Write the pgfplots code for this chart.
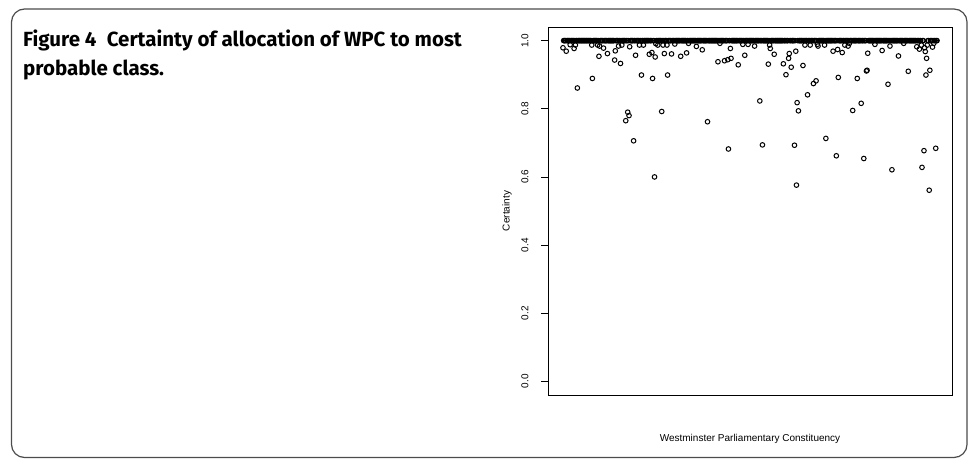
\documentclass[border=0pt]{standalone}
\usepackage{pgfplots}
\pgfplotsset{compat=1.18}
\usepackage{fontspec}
\setmainfont{Liberation Sans}
\newfontfamily\titlefont{Fira Sans}

\pgfplotstableread{
idx certainty
1 0.979
6 0.969
12 0.988
18 0.977
20 0.987
23 0.861
45 0.987
46 0.889
54 0.987
56 0.954
57 0.984
63 0.978
69 0.962
80 0.943
81 0.970
86 0.984
89 0.933
91 0.987
97 0.765
100 0.790
102 0.780
103 0.982
109 0.706
112 0.957
118 0.987
121 0.899
124 0.987
133 0.960
137 0.965
138 0.889
141 0.600
142 0.952
143 0.991
146 0.987
152 0.792
154 0.987
156 0.962
160 0.987
161 0.899
167 0.961
172 0.990
181 0.954
190 0.964
193 0.992
205 0.983
214 0.973
222 0.762
238 0.938
241 0.992
248 0.941
253 0.944
254 0.682
257 0.977
258 0.948
269 0.929
276 0.989
279 0.957
284 0.989
294 0.984
302 0.823
306 0.694
315 0.931
317 0.987
318 0.977
324 0.960
338 0.932
342 0.900
346 0.948
347 0.962
350 0.922
355 0.693
357 0.969
358 0.576
359 0.818
361 0.794
368 0.927
371 0.987
375 0.841
379 0.987
384 0.874
388 0.882
390 0.989
391 0.984
401 0.987
403 0.713
414 0.969
419 0.662
421 0.974
422 0.892
428 0.965
432 0.987
437 0.984
439 0.992
444 0.795
451 0.889
457 0.816
461 0.654
465 0.911
466 0.913
467 0.963
478 0.989
489 0.971
498 0.872
501 0.984
504 0.621
514 0.955
522 0.992
529 0.910
542 0.982
546 0.975
549 0.987
550 0.628
553 0.677
554 0.979
555 0.968
556 0.899
557 0.948
558 0.987
561 0.561
562 0.913
566 0.981
568 0.992
571 0.684
}\lowcert

\begin{document}
\begin{tikzpicture}[x=1pt,y=1pt]
\useasboundingbox (0,0) rectangle (973,460);
\draw[black!70, line width=1.2pt, rounded corners=13pt] (11.5,2.5) rectangle (967,451);
\node[anchor=north west, align=left, inner sep=0pt,
      font=\titlefont\bfseries\fontsize{20.5}{29}\selectfont] at (23,430)
  {Figure 4\enspace Certainty of allocation of WPC to most\\probable class.};
\begin{axis}[
  at={(548pt,65pt)}, anchor=south west,
  scale only axis, width=404pt, height=368pt,
  xmin=-21.88, xmax=595.88, ymin=-0.04, ymax=1.04,
  xtick=\empty,
  ytick={0,0.2,0.4,0.6,0.8,1.0},
  ytick pos=left,
  tick align=outside,
  major tick length=7pt,
  yticklabel style={rotate=90, anchor=center, inner sep=0pt, font=\fontsize{10}{12}\selectfont},
  yticklabel shift=16pt,
  /pgf/number format/.cd, fixed, fixed zerofill, precision=1, assume math mode=true, /pgfplots/.cd,
  axis line style={line width=0.8pt, black},
  every tick/.style={black, line width=0.8pt},
  ylabel={Certainty},
  xlabel={Westminster Parliamentary Constituency},
  label style={font=\fontsize{10}{12}\selectfont},
  every axis y label/.style={at={(axis description cs:-0.0953,0.5)}, rotate=90, anchor=base},
  every axis x label/.style={at={(axis description cs:0.5,-0.1264)}, anchor=base},
]
\addplot[only marks, mark=o, mark size=2.3pt, black, line width=1pt]
  coordinates {
(2,1)(3,1)(4,1)(5,1)(7,1)(8,1)(9,1)(10,1)
(11,1)(13,1)(14,1)(15,1)(16,1)(17,1)(19,1)
(21,1)(22,1)(24,1)(25,1)(26,1)(27,1)(28,1)(29,1)(30,1)
(31,1)(32,1)(33,1)(34,1)(35,1)(36,1)(37,1)(38,1)(39,1)(40,1)
(41,1)(42,1)(43,1)(44,1)(47,1)(48,1)(49,1)(50,1)
(51,1)(52,1)(53,1)(55,1)(58,1)(59,1)(60,1)
(61,1)(62,1)(64,1)(65,1)(66,1)(67,1)(68,1)(70,1)
(71,1)(72,1)(73,1)(74,1)(75,1)(76,1)(77,1)(78,1)(79,1)
(82,1)(83,1)(84,1)(85,1)(87,1)(88,1)(90,1)
(92,1)(93,1)(94,1)(95,1)(96,1)(98,1)(99,1)
(101,1)(104,1)(105,1)(106,1)(107,1)(108,1)(110,1)
(111,1)(113,1)(114,1)(115,1)(116,1)(117,1)(119,1)(120,1)
(122,1)(123,1)(125,1)(126,1)(127,1)(128,1)(129,1)(130,1)
(131,1)(132,1)(134,1)(135,1)(136,1)(139,1)(140,1)
(144,1)(145,1)(147,1)(148,1)(149,1)(150,1)
(151,1)(153,1)(155,1)(157,1)(158,1)(159,1)
(162,1)(163,1)(164,1)(165,1)(166,1)(168,1)(169,1)(170,1)
(171,1)(173,1)(174,1)(175,1)(176,1)(177,1)(178,1)(179,1)(180,1)
(182,1)(183,1)(184,1)(185,1)(186,1)(187,1)(188,1)(189,1)
(191,1)(192,1)(194,1)(195,1)(196,1)(197,1)(198,1)(199,1)(200,1)
(201,1)(202,1)(203,1)(204,1)(206,1)(207,1)(208,1)(209,1)(210,1)
(211,1)(212,1)(213,1)(215,1)(216,1)(217,1)(218,1)(219,1)(220,1)
(221,1)(223,1)(224,1)(225,1)(226,1)(227,1)(228,1)(229,1)(230,1)
(231,1)(232,1)(233,1)(234,1)(235,1)(236,1)(237,1)(239,1)(240,1)
(242,1)(243,1)(244,1)(245,1)(246,1)(247,1)(249,1)(250,1)
(251,1)(252,1)(255,1)(256,1)(259,1)(260,1)
(261,1)(262,1)(263,1)(264,1)(265,1)(266,1)(267,1)(268,1)(270,1)
(271,1)(272,1)(273,1)(274,1)(275,1)(277,1)(278,1)(280,1)
(281,1)(282,1)(283,1)(285,1)(286,1)(287,1)(288,1)(289,1)(290,1)
(291,1)(292,1)(293,1)(295,1)(296,1)(297,1)(298,1)(299,1)(300,1)
(301,1)(303,1)(304,1)(305,1)(307,1)(308,1)(309,1)(310,1)
(311,1)(312,1)(313,1)(314,1)(316,1)(319,1)(320,1)
(321,1)(322,1)(323,1)(325,1)(326,1)(327,1)(328,1)(329,1)(330,1)
(331,1)(332,1)(333,1)(334,1)(335,1)(336,1)(337,1)(339,1)(340,1)
(341,1)(343,1)(344,1)(345,1)(348,1)(349,1)
(351,1)(352,1)(353,1)(354,1)(356,1)(360,1)
(362,1)(363,1)(364,1)(365,1)(366,1)(367,1)(369,1)(370,1)
(372,1)(373,1)(374,1)(376,1)(377,1)(378,1)(380,1)
(381,1)(382,1)(383,1)(385,1)(386,1)(387,1)(389,1)
(392,1)(393,1)(394,1)(395,1)(396,1)(397,1)(398,1)(399,1)(400,1)
(402,1)(404,1)(405,1)(406,1)(407,1)(408,1)(409,1)(410,1)
(411,1)(412,1)(413,1)(415,1)(416,1)(417,1)(418,1)(420,1)
(423,1)(424,1)(425,1)(426,1)(427,1)(429,1)(430,1)
(431,1)(433,1)(434,1)(435,1)(436,1)(438,1)(440,1)
(441,1)(442,1)(443,1)(445,1)(446,1)(447,1)(448,1)(449,1)(450,1)
(452,1)(453,1)(454,1)(455,1)(456,1)(458,1)(459,1)(460,1)
(462,1)(463,1)(464,1)(468,1)(469,1)(470,1)
(471,1)(472,1)(473,1)(474,1)(475,1)(476,1)(477,1)(479,1)(480,1)
(481,1)(482,1)(483,1)(484,1)(485,1)(486,1)(487,1)(488,1)(490,1)
(491,1)(492,1)(493,1)(494,1)(495,1)(496,1)(497,1)(499,1)(500,1)
(502,1)(503,1)(505,1)(506,1)(507,1)(508,1)(509,1)(510,1)
(511,1)(512,1)(513,1)(515,1)(516,1)(517,1)(518,1)(519,1)(520,1)
(521,1)(523,1)(524,1)(525,1)(526,1)(527,1)(528,1)(530,1)
(531,1)(532,1)(533,1)(534,1)(535,1)(536,1)(537,1)(538,1)(539,1)(540,1)
(541,1)(543,1)(544,1)(545,1)(547,1)(548,1)
(551,1)(552,1)(559,1)(560,1)
(563,1)(564,1)(565,1)(567,1)(569,1)(570,1)
(572,1)(573,1)};
\addplot[only marks, mark=o, mark size=2.3pt, black, line width=1pt]
  table[x=idx, y=certainty] {\lowcert};
\end{axis}
\end{tikzpicture}
\end{document}
